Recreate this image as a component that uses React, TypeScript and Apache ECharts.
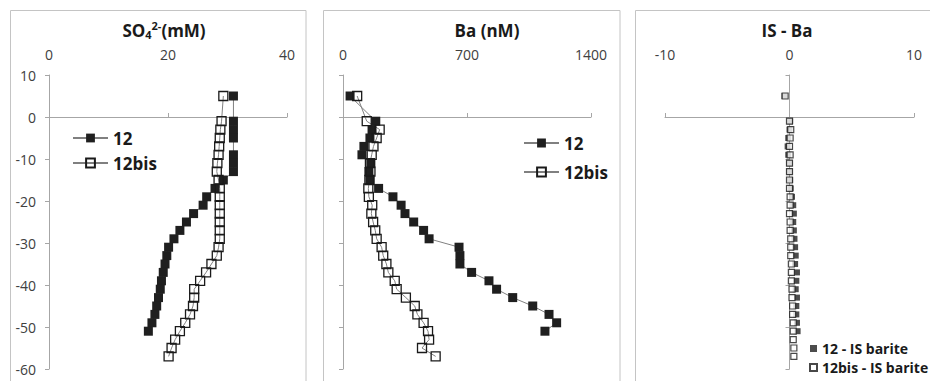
import React, { useEffect, useRef } from "react";
import * as echarts from "echarts";

// ---- Data ----
// SO4 (mM) profile
const so4Depth12 = [5, -1, -3, -5, -9, -11, -13, -15, -17, -19, -21, -23, -25, -27, -29, -31, -33, -35, -37, -39, -41, -43, -45, -47, -49, -51];
const so4Val12 = [31, 31, 31, 31, 31, 31, 31, 29.3, 27.9, 26.5, 25.9, 24.3, 23.1, 22.0, 21.0, 20.1, 19.8, 19.5, 19.2, 18.9, 18.7, 18.4, 18.1, 17.8, 17.3, 16.7];
const so4Depth12bis = [5, -1, -3, -5, -7, -9, -11, -13, -15, -17, -19, -21, -23, -25, -27, -29, -31, -33, -35, -37, -39, -41, -43, -45, -47, -49, -51, -53, -55, -57];
const so4Val12bis = [29.3, 29.0, 28.8, 28.7, 28.6, 28.5, 28.3, 28.2, 28.5, 28.7, 28.7, 28.7, 28.7, 28.7, 28.7, 28.7, 28.5, 28.2, 27.3, 26.4, 25.4, 24.4, 24.4, 24.2, 23.7, 22.9, 22.0, 21.2, 20.6, 20.1];

// Ba (nM) profile
const baDepth12 = [5, -1, -3, -5, -7, -9, -11, -13, -15, -17, -19, -21, -23, -25, -27, -29, -31, -33, -35, -37, -39, -41, -43, -45, -47, -49, -51];
const baVal12 = [40, 185, 164, 152, 118, 107, 157, 146, 152, 201, 282, 328, 350, 399, 455, 486, 655, 660, 660, 726, 824, 867, 958, 1071, 1163, 1206, 1140];
const baDepth12bis = [5, -1, -3, -5, -7, -9, -11, -13, -15, -17, -19, -21, -23, -25, -27, -29, -31, -33, -35, -37, -39, -41, -43, -45, -47, -49, -51, -53, -55, -57];
const baVal12bis = [80, 134, 207, 190, 172, 162, 152, 155, 149, 143, 146, 165, 160, 170, 182, 190, 218, 227, 245, 256, 292, 303, 355, 405, 420, 455, 480, 486, 446, 523];

// IS - Ba (saturation index vs barite)
const isDepth12 = [5, -1, -3, -5, -7, -9, -11, -13, -15, -17, -19, -21, -23, -25, -27, -29, -31, -33, -35, -37, -39, -41, -43, -45, -47, -49, -51];
const isVal12 = [-0.4, 0.05, 0.0, -0.1, -0.15, -0.1, 0.0, 0.0, 0.05, 0.1, 0.2, 0.3, 0.35, 0.3, 0.35, 0.4, 0.45, 0.5, 0.45, 0.6, 0.55, 0.5, 0.6, 0.55, 0.55, 0.6, 0.65];
const isDepth12bis = [5, -1, -3, -5, -7, -9, -11, -13, -15, -17, -19, -21, -23, -25, -27, -29, -31, -33, -35, -37, -39, -41, -43, -45, -47, -49, -51, -53, -55, -57];
const isVal12bis = [-0.35, 0.0, 0.1, 0.05, 0.0, 0.05, 0.0, 0.0, 0.0, 0.0, 0.05, 0.05, 0.0, 0.05, 0.05, 0.1, 0.1, 0.1, 0.15, 0.15, 0.15, 0.2, 0.2, 0.25, 0.25, 0.3, 0.3, 0.3, 0.35, 0.35];

// Axes
const so4Axis = { min: 0, max: 40, interval: 20 };
const baAxis = { min: 0, max: 1400, interval: 700 };
const isAxis = { min: -10, max: 10, interval: 10 };
const depthAxis = { min: -60, max: 10, interval: 10 };

const seriesNames = ["12", "12bis"];
const isNames = ["12 - IS barite", "12bis - IS barite"];

const FONT = "Open Sans";
const AXIS_COLOR = "#a6a6a6";
const LABEL_COLOR = "#404040";
const TEXT_COLOR = "#1a1a1a";
const BORDER_COLOR = "#c4c4c4";

const zip = (xs: number[], ys: number[]) => xs.map((x, i) => [x, ys[i]]);

export default function App() {
  const ref = useRef<HTMLDivElement>(null);

  useEffect(() => {
    if (!ref.current) return;
    const chart = echarts.init(ref.current, undefined, { renderer: "svg" });

    const grids = [
      { left: 49, top: 75, width: 238, height: 294 },
      { left: 343, top: 75, width: 248, height: 294 },
      { left: 665, top: 75, width: 249, height: 294 },
    ];
    const scales = [so4Axis, baAxis, isAxis];

    const xAxes: any[] = [];
    scales.forEach((s, gi) => {
      xAxes.push({
        type: "value",
        gridIndex: gi,
        position: "top",
        min: s.min,
        max: s.max,
        interval: s.interval,
        axisLine: { show: false, onZero: false },
        axisTick: { show: false },
        splitLine: { show: false },
        axisLabel: { margin: 14, fontFamily: FONT, fontSize: 14, color: LABEL_COLOR, formatter: (v: number) => String(v) },
      });
      xAxes.push({
        type: "value",
        gridIndex: gi,
        position: "bottom",
        min: s.min,
        max: s.max,
        interval: s.interval,
        axisLine: { show: true, onZero: true, lineStyle: { color: AXIS_COLOR, width: 1 } },
        axisTick: { show: true, inside: true, length: 4, lineStyle: { color: AXIS_COLOR } },
        splitLine: { show: false },
        axisLabel: { show: false },
      });
    });

    const yAxes = [0, 1, 2].map((gi) => ({
      type: "value",
      gridIndex: gi,
      min: depthAxis.min,
      max: depthAxis.max,
      interval: depthAxis.interval,
      axisLine: { show: true, onZero: true, lineStyle: { color: AXIS_COLOR, width: 1 } },
      axisTick: { show: true, length: 4, lineStyle: { color: AXIS_COLOR } },
      splitLine: { show: false },
      axisLabel: { show: gi === 0, margin: 13, fontFamily: FONT, fontSize: 14, color: LABEL_COLOR, formatter: (v: number) => String(v) },
    }));

    const lineCommon = {
      type: "line",
      symbol: "rect",
      symbolSize: 9,
      showAllSymbol: true,
      lineStyle: { color: "#808080", width: 1 },
      emphasis: { disabled: true },
    };
    const filled = { color: "#1f1f1f", borderColor: "#1f1f1f", borderWidth: 0 };
    const open = { color: "transparent", borderColor: "#1a1a1a", borderWidth: 1.3 };

    const series: any[] = [
      { ...lineCommon, name: seriesNames[0], xAxisIndex: 0, yAxisIndex: 0, itemStyle: filled, data: zip(so4Val12, so4Depth12) },
      { ...lineCommon, name: seriesNames[1], xAxisIndex: 0, yAxisIndex: 0, itemStyle: open, data: zip(so4Val12bis, so4Depth12bis) },
      { ...lineCommon, name: seriesNames[0], xAxisIndex: 2, yAxisIndex: 1, itemStyle: filled, data: zip(baVal12, baDepth12) },
      { ...lineCommon, name: seriesNames[1], xAxisIndex: 2, yAxisIndex: 1, itemStyle: open, data: zip(baVal12bis, baDepth12bis) },
      {
        type: "scatter", name: isNames[0], xAxisIndex: 4, yAxisIndex: 2, symbol: "rect", symbolSize: 6,
        itemStyle: { color: "#1f1f1f" }, emphasis: { disabled: true }, data: zip(isVal12, isDepth12),
      },
      {
        type: "scatter", name: isNames[1], xAxisIndex: 4, yAxisIndex: 2, symbol: "rect", symbolSize: 6,
        itemStyle: { color: "#ffffff", borderColor: "#1a1a1a", borderWidth: 1.2 }, emphasis: { disabled: true },
        data: zip(isVal12bis, isDepth12bis),
      },
    ];

    const legendText = { fontFamily: FONT, fontSize: 17, fontWeight: "bold", color: TEXT_COLOR, lineHeight: 20 };

    const titleRich = {
      a: { fontFamily: FONT, fontSize: 17, fontWeight: "bold", fill: TEXT_COLOR, lineHeight: 20, verticalAlign: "middle" },
      b: { fontFamily: FONT, fontSize: 11, fontWeight: "bold", fill: TEXT_COLOR, lineHeight: 12, verticalAlign: "bottom" },
      c: { fontFamily: FONT, fontSize: 11, fontWeight: "bold", fill: TEXT_COLOR, lineHeight: 14, verticalAlign: "top" },
    };

    const option: any = {
      animation: false,
      grid: grids,
      xAxis: xAxes,
      yAxis: yAxes,
      series,
      legend: [
        {
          data: seriesNames, orient: "vertical", left: 72, top: 128, padding: 0,
          itemWidth: 35, itemHeight: 11, itemGap: 5, itemTextGap: 3, selectedMode: false, textStyle: legendText,
        },
        {
          data: seriesNames, orient: "vertical", left: 523, top: 133, padding: 0,
          itemWidth: 35, itemHeight: 11, itemGap: 9, itemTextGap: 4, selectedMode: false, textStyle: legendText,
        },
        {
          data: isNames, orient: "vertical", left: 809, top: 340, padding: 0,
          itemWidth: 7, itemHeight: 7, itemGap: 2, itemTextGap: 5, selectedMode: false,
          textStyle: { fontFamily: FONT, fontSize: 14, fontWeight: "bold", color: TEXT_COLOR, lineHeight: 17 },
        },
      ],
      graphic: [
        { type: "rect", silent: true, shape: { x: 10.5, y: 10.5, width: 295.5, height: 400 }, style: { fill: "none", stroke: BORDER_COLOR, lineWidth: 1 } },
        { type: "rect", silent: true, shape: { x: 323.5, y: 10.5, width: 296.5, height: 400 }, style: { fill: "none", stroke: BORDER_COLOR, lineWidth: 1 } },
        { type: "rect", silent: true, shape: { x: 635.5, y: 10.5, width: 320, height: 400 }, style: { fill: "none", stroke: BORDER_COLOR, lineWidth: 1 } },
        {
          type: "text", silent: true, x: 164, y: 30,
          style: { text: "{a|SO}{b|4}{c|2-}{a|(mM)}", rich: titleRich, align: "center", verticalAlign: "middle" },
        },
        {
          type: "text", silent: true, x: 487, y: 30,
          style: { text: "Ba (nM)", fontFamily: FONT, fontSize: 17, fontWeight: "bold", fill: TEXT_COLOR, align: "center", verticalAlign: "middle" },
        },
        {
          type: "text", silent: true, x: 787, y: 30,
          style: { text: "IS - Ba", fontFamily: FONT, fontSize: 17, fontWeight: "bold", fill: TEXT_COLOR, align: "center", verticalAlign: "middle" },
        },
      ],
    };

    chart.setOption(option);
    return () => chart.dispose();
  }, []);

  return (
    <div
      ref={ref}
      style={{ position: "fixed", left: 0, top: 0, width: 930, height: 381, background: "#ffffff" }}
    />
  );
}
